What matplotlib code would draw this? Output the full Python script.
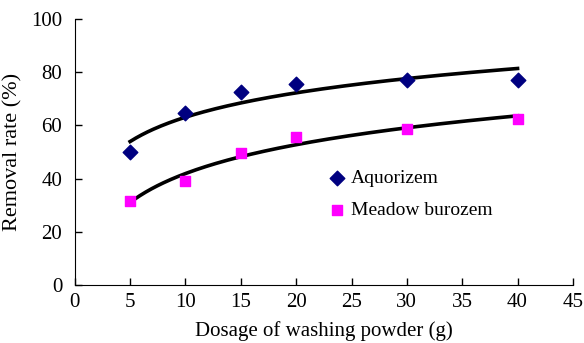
import numpy as np
import matplotlib.pyplot as plt

dosage = [5, 10, 15, 20, 30, 40]
aquorizem = [50, 64.5, 72.5, 75.5, 77, 77]
meadow_burozem = [31.5, 39, 49.5, 55.5, 58.5, 62.5]

plt.rcParams['font.family'] = ['Liberation Serif', 'DejaVu Serif']

fig = plt.figure(figsize=(5.84, 3.43), dpi=100)
ax = fig.add_axes([0.128, 0.169, 0.853, 0.776])

# logarithmic trendlines fitted to the measurements
xs = np.linspace(min(dosage), max(dosage), 200)
for y in (aquorizem, meadow_burozem):
    b, a = np.polyfit(np.log(dosage), y, 1)
    ax.plot(xs, a + b * np.log(xs), color='black', lw=2.6, zorder=2)

ax.scatter(dosage, aquorizem, marker='D', s=55, color='#000080', label='Aquorizem', zorder=3)
ax.scatter(dosage, meadow_burozem, marker='s', s=60, color='#FF00FF', label='Meadow burozem', zorder=3)

ax.set_xlim(0, 45)
ax.set_ylim(0, 100)
ax.set_xticks(range(0, 46, 5))
ax.set_yticks(range(0, 101, 20))
ax.tick_params(labelsize=15, direction='in', length=5, width=1)
ax.tick_params(axis='y', pad=9)
ax.tick_params(axis='x', pad=6)
for s in ('top', 'right'):
    ax.spines[s].set_visible(False)

ax.set_xlabel('Dosage of washing powder (g)', fontsize=15, labelpad=6)
ax.set_ylabel('Removal rate (%)', fontsize=16, labelpad=6)

ax.legend(loc='upper left', bbox_to_anchor=(0.467, 0.50), frameon=False, fontsize=14,
          handletextpad=0.15, labelspacing=0.75, handlelength=1.2)

fig.savefig('out.png', dpi=100)
